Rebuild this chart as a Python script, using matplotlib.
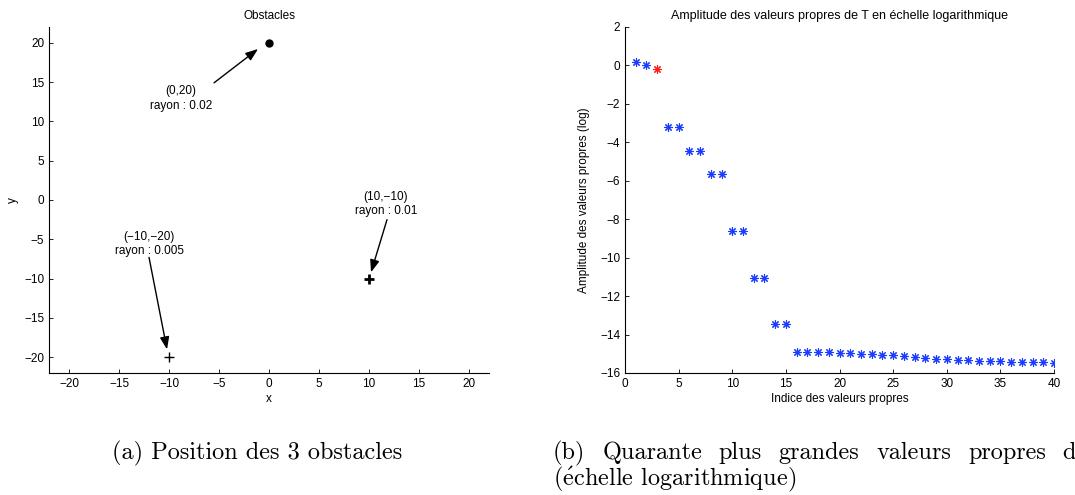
import matplotlib.pyplot as plt
import numpy as np

plt.rcParams['font.family'] = ['Liberation Sans', 'DejaVu Sans']
plt.rcParams['axes.unicode_minus'] = True
plt.rcParams['mathtext.fontset'] = 'cm'

# Obstacles (position, rayon)
obs_x = [0, 10, -10]
obs_y = [20, -10, -20]
obs_rayon = ['0.02', '0.01', '0.005']
obs_labels = ['(0,20)', '(10,\u221210)', '(\u221210,\u221220)']

# Valeurs propres (log)
indices = np.arange(1, 41)
log_vp = np.array([0.17, 0.0, -0.17, -3.22, -3.22, -4.43, -4.43, -5.63, -5.63,
                   -8.62, -8.62, -11.06, -11.06, -13.46, -13.46,
                   -14.89, -14.89, -14.91, -14.93, -14.96, -14.98, -15.0,
                   -15.03, -15.07, -15.07, -15.12, -15.19, -15.24, -15.28,
                   -15.29, -15.31, -15.33, -15.36, -15.38, -15.38, -15.41,
                   -15.41, -15.45, -15.45, -15.48])
idx_rouge = 3

fig = plt.figure(figsize=(10.75, 4.95), dpi=100)

# --- (a) obstacles ---
ax1 = fig.add_axes([0.0456, 0.2465, 0.4093, 0.699])
ax1.plot(obs_x[0], obs_y[0], 'ko', markersize=5, markerfacecolor='k')
ax1.plot(obs_x[1], obs_y[1], 'k+', markersize=7, markeredgewidth=2)
ax1.plot(obs_x[2], obs_y[2], 'k+', markersize=7, markeredgewidth=1)

# texte et départ de la flèche, en coordonnées données
txt_pos = [(-8.8, 12.9), (11.7, -0.5), (-12.0, -5.6)]
arr_start = [(-5.5, 14.9), (11.8, -2.5), (-12.0, -7.3)]
arr_end = [(-1.1, 19.2), (10.2, -9.2), (-10.2, -19.0)]
for lab, r, tp, a0, a1 in zip(obs_labels, obs_rayon, txt_pos, arr_start, arr_end):
    ax1.text(tp[0], tp[1], f'{lab}\nrayon : {r}', ha='center', va='center',
             fontsize=8.5, linespacing=1.3)
    ax1.annotate('', xy=a1, xytext=a0,
                 arrowprops=dict(arrowstyle='-|>,head_length=0.75,head_width=0.28',
                                 color='k', lw=1, shrinkA=0, shrinkB=0))

ax1.set_xlim(-22, 22)
ax1.set_ylim(-22, 22)
ax1.set_xticks(np.arange(-20, 21, 5))
ax1.set_yticks(np.arange(-20, 21, 5))
ax1.set_title('Obstacles', fontsize=8.5, pad=6)
ax1.set_xlabel('x', fontsize=8.5, labelpad=2)
ax1.set_ylabel('y', fontsize=8.5, labelpad=4)
for s in ['top', 'right']:
    ax1.spines[s].set_visible(False)
ax1.tick_params(labelsize=8.5, direction='in', length=3, width=0.6)

# --- (b) valeurs propres ---
ax2 = fig.add_axes([0.5814, 0.2465, 0.3991, 0.699])
bleu = indices != idx_rouge
ax2.plot(indices[bleu], log_vp[bleu], linestyle='none', marker=(8, 2, 0),
         markersize=6, color='#1a3cff', markeredgewidth=0.8)
ax2.plot(indices[~bleu], log_vp[~bleu], linestyle='none', marker=(8, 2, 0),
         markersize=6, color='#ff1a1a', markeredgewidth=0.8)
ax2.set_xlim(0, 40)
ax2.set_ylim(-16, 2)
ax2.set_xticks(np.arange(0, 41, 5))
ax2.set_yticks(np.arange(-16, 3, 2))
ax2.set_title('Amplitude des valeurs propres de T en \u00e9chelle logarithmique',
              fontsize=9, pad=6)
ax2.set_xlabel('Indice des valeurs propres', fontsize=8.5, labelpad=2)
ax2.set_ylabel('Amplitude des valeurs propres (log)', fontsize=8.5, labelpad=7)
for s in ['top', 'right']:
    ax2.spines[s].set_visible(False)
ax2.tick_params(labelsize=8.5, direction='in', length=3, width=0.6)

# légendes des sous-figures (texte justifié, coupé au bord droit comme l'original)
cap = dict(fontsize=17.5, family=['cmr10', 'DejaVu Serif'], va='center', ha='left')
fig.text(112 / 1075, 1 - 453 / 495, '(a) Position des 3 obstacles', **cap)

renderer = fig.canvas.get_renderer()
mots = ['(b)', 'Quarante', 'plus', 'grandes', 'valeurs', 'propres', 'de']
x0, x_fin_d = 553.0, 1076.0
textes = [fig.text(0, 1 - 453 / 495, m, **cap) for m in mots]
larg = [t.get_window_extent(renderer).width for t in textes]
t_d = fig.text(0, 0, 'd', **cap)
larg_d = t_d.get_window_extent(renderer).width
t_d.remove()
ecart = (x_fin_d - x0 - sum(larg[:6]) - larg_d) / 6
px = x0
for t, w in zip(textes, larg):
    t.set_x(px / 1075)
    px += w + ecart
fig.text(553 / 1075, 1 - 479 / 495,
         r'($\acute{\mathrm{e}}$chelle logarithmique)', **cap)

fig.savefig('out.png', dpi=100)
